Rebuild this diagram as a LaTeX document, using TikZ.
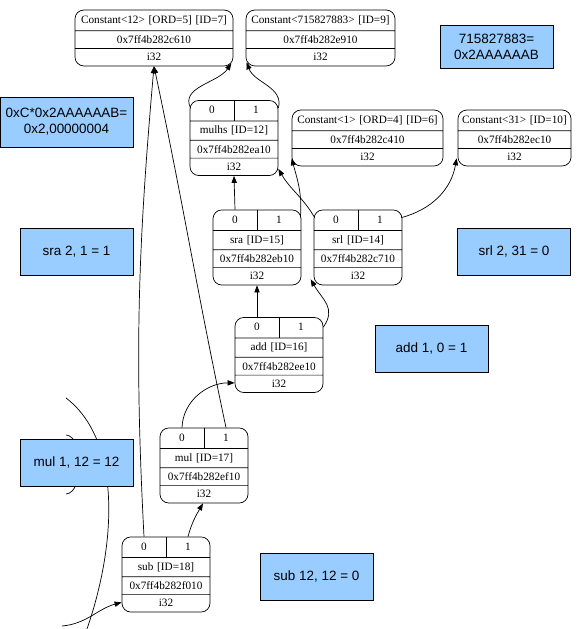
\documentclass[tikz,border=0pt]{standalone}
\usepackage{fontspec}
\setmainfont{Liberation Serif}
\setsansfont{Liberation Sans}
\usepackage{tikz}
\usetikzlibrary{arrows.meta, positioning, calc, shapes.multipart}
\definecolor{noteblue}{RGB}{153, 204, 255}
\newcommand{\portrow}{\makebox[.5\linewidth]{0}\makebox[.5\linewidth]{1}}

\tikzset{
  oprec/.style={rectangle split, rectangle split parts=4, draw, line width=0.6pt, rounded corners=7.5pt,
    inner xsep=0pt, inner ysep=3.9pt, text width=2.64cm, align=center, text height=7pt, text depth=2.2pt,
    font=\fontsize{9.6}{11}\selectfont},
  constrec/.style={oprec, rectangle split parts=3},
  note/.style={draw, line width=0.5pt, fill=noteblue, minimum width=3.39cm, minimum height=1.41cm,
    inner sep=0pt, align=center, font=\sffamily\fontsize{11.5}{13.5}\selectfont},
  dep/.style={-{Triangle[length=6pt, width=4.5pt]}, line width=0.6pt},
}

\begin{document}
\begin{tikzpicture}[x=0.03cm, y=0.03cm]
    \useasboundingbox (0,0) rectangle (580,629);

    % constants
    \node[constrec, text width=4.74cm] (c12) at (154, 591) {Constant<12> [ORD=5] [ID=7] \nodepart{two} 0x7ff4b282c610 \nodepart{three} i32};
    \node[constrec, text width=4.47cm] (c715) at (320.5, 591) {Constant<715827883> [ID=9] \nodepart{two} 0x7ff4b282e910 \nodepart{three} i32};
    \node[constrec, text width=4.53cm] (c1) at (367.5, 491) {Constant<1> [ORD=4] [ID=6] \nodepart{two} 0x7ff4b282c410 \nodepart{three} i32};
    \node[constrec, text width=3.39cm] (c31) at (514.5, 491) {Constant<31> [ID=10] \nodepart{two} 0x7ff4b282ec10 \nodepart{three} i32};

    % operations
    \node[oprec] (mulhs) at (234, 491) {\portrow \nodepart{two} mulhs [ID=12] \nodepart{three} 0x7ff4b282ea10 \nodepart{four} i32};
    \node[oprec] (sra) at (257, 381.5) {\portrow \nodepart{two} sra [ID=15] \nodepart{three} 0x7ff4b282eb10 \nodepart{four} i32};
    \node[oprec] (srl) at (358, 381.5) {\portrow \nodepart{two} srl [ID=14] \nodepart{three} 0x7ff4b282c710 \nodepart{four} i32};
    \node[oprec] (add) at (279, 274) {\portrow \nodepart{two} add [ID=16] \nodepart{three} 0x7ff4b282ee10 \nodepart{four} i32};
    \node[oprec] (mul) at (204, 163.5) {\portrow \nodepart{two} mul [ID=17] \nodepart{three} 0x7ff4b282ef10 \nodepart{four} i32};
    \node[oprec] (sub) at (166, 54.5) {\portrow \nodepart{two} sub [ID=18] \nodepart{three} 0x7ff4b282f010 \nodepart{four} i32};
    \foreach \n in {mulhs, sra, srl, add, mul, sub}
        \draw[line width=0.6pt] (\n.north) -- (\n.one split);

    % operand edges
    \draw[dep] ($(mulhs.north west)+(1,-8)$) to[out=117, in=-124] ($(c12.south east)+(-2,3)$);
    \draw[dep] ($(mulhs.north east)+(0,-8)$) to[out=75, in=-70] ($(c715.south west)+(1,4)$);
    \draw[dep] ($(sra.north)+(-22,0)$) -- (mulhs.south);
    \draw[dep] ($(sra.north east)+(-1,-8)$) to[out=85, in=-75] ($(c1.south west)+(0,8)$);
    \draw[dep] ($(srl.north west)+(1,-8)$) to[out=120, in=-60] ($(mulhs.south east)+(0,7)$);
    \draw[dep] ($(srl.north east)+(-1,-8)$) to[out=15, in=-100] ($(c31.south west)+(-1,8)$);
    \draw[dep] ($(add.north)+(-22,0)$) -- (sra.south);
    \draw[dep] ($(add.north east)+(0,-10)$) to[out=55, in=-60, looseness=1.2] ($(srl.south west)+(-3,6)$);
    \draw[dep] ($(mul.north)+(-22,0)$) to[out=88, in=180] ($(add.south west)+(0,10)$);
    \draw[dep] ($(mul.north)+(22,0)$) to[out=102, in=-78] (c12.south);
    \draw[dep] ($(sub.north)+(-22,0)$) to[out=93, in=-95] (c12.south);
    \draw[dep] ($(sub.north)+(22,0)$) to[out=75, in=-120] ($(mul.south)+(-1,0)$);

    % edges from outside the view
    \coordinate (offl) at (62, 3);
    \coordinate (offb) at (87, 0);
    \coordinate (offt) at (66, 231);
    \coordinate (arcA) at (66, 194);
    \coordinate (arcB) at (66, 135);
    \draw[dep] (offl) to[out=5, in=195] ($(sub.south west)+(0,10)$);
    \draw[line width=0.6pt] (offb) .. controls (118, 90) and (120, 190) .. (offt);
    \draw[line width=0.6pt] (arcA) .. controls (84, 193) and (84, 136) .. (arcB);

    % notes
    \node[note, minimum width=3.99cm, minimum height=1.5cm] (nmulhs) at (66.5, 507) {0xC*0x2AAAAAAB=\\0x2,00000004};
    \node[note, minimum height=1.29cm] (nconst) at (496.5, 582.5) {715827883=\\0x2AAAAAAB};
    \node[note] (nsra) at (76.5, 377.5) {sra 2, 1 = 1};
    \node[note] (nsrl) at (514, 377.5) {srl 2, 31 = 0};
    \node[note] (nadd) at (431.5, 280.5) {add 1, 0 = 1};
    \node[note] (nmul) at (76.5, 166.5) {mul 1, 12 = 12};
    \node[note] (nsub) at (316.5, 52.5) {sub 12, 12 = 0};
\end{tikzpicture}
\end{document}
